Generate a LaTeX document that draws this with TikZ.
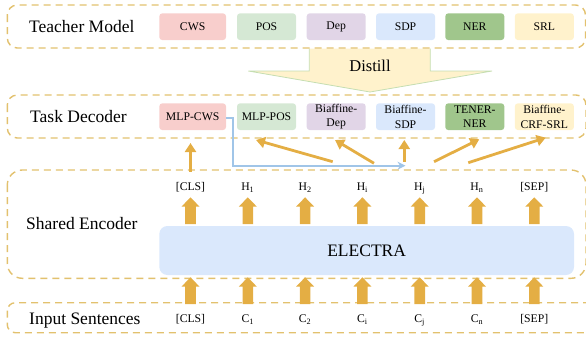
\documentclass[tikz,border=0pt]{standalone}
\usepackage{fontspec}
\setmainfont{Liberation Serif}
\usetikzlibrary{arrows.meta}
\definecolor{dashc}{RGB}{226,193,110}
\definecolor{orng}{RGB}{228,174,68}
\definecolor{cwsc}{RGB}{248,206,204}
\definecolor{posc}{RGB}{213,232,212}
\definecolor{depc}{RGB}{225,213,231}
\definecolor{sdpc}{RGB}{218,232,252}
\definecolor{nerc}{RGB}{160,198,140}
\definecolor{srlc}{RGB}{255,242,204}
\definecolor{bluel}{RGB}{160,197,232}
\definecolor{distb}{RGB}{197,222,178}
\tikzset{
  groupbox/.style={draw=dashc, line width=1.4pt, dash pattern=on 7pt off 5pt},
  grouptitle/.style={font=\fontsize{17.5}{20}\selectfont, anchor=west, inner sep=0pt, text height=11.6pt, text depth=0pt},
  taskbox/.style={rounded corners=3pt, minimum height=26.7pt, minimum width=59pt, inner sep=0pt, font=\fontsize{11.7}{14.5}\selectfont, align=center},
  tok/.style={font=\fontsize{11.7}{14}\selectfont, inner sep=0pt, text height=7.8pt, text depth=0pt},
  thinarr/.style={draw=orng, line width=2.8pt, -{Triangle[length=9pt,width=11pt]}},
  bluearr/.style={draw=bluel, line width=2.2pt, -{Stealth[length=8pt,width=8pt]}},
  blockup/.pic={\fill[orng] (-5.3,0) -- (-5.3,-17.4) -- (-9,-17.4) -- (0,-26.7) -- (9,-17.4) -- (5.3,-17.4) -- (5.3,0) -- cycle;}
}
\begin{document}
\begin{tikzpicture}[x=1pt,y=-1pt]
\useasboundingbox (0,0) rectangle (586,338);
\clip (0,0) rectangle (586,338);
% distill arrow (behind the dashed box line)
\fill[srlc] (309.3,48.5) -- (309.3,71) -- (248.3,71) -- (370,92) -- (492,71) -- (430.3,71) -- (430.3,48.5) -- cycle;
\draw[distb, line width=0.8pt] (309.3,48.5) -- (309.3,71) -- (248.3,71) -- (370,92) -- (492,71) -- (430.3,71) -- (430.3,48.5);
\node[font=\fontsize{16.5}{18}\selectfont, inner sep=0pt] (distill) at (370,66) {Distill};
% group boxes
\draw[groupbox, rounded corners=10pt] (7.3,5) rectangle (585.5,48);
\draw[groupbox, rounded corners=10pt] (7.3,95) rectangle (586,138);
\draw[groupbox, rounded corners=15pt] (7.3,170) rectangle (586,278.3);
\draw[groupbox, rounded corners=8pt] (7.3,302.7) rectangle (596,332.7);
% titles
\node[grouptitle] (tmodel) at (29,27) {Teacher Model};
\node[grouptitle] (tdec) at (30,117) {Task Decoder};
\node[grouptitle] (senc) at (26,223.3) {Shared Encoder};
\node[grouptitle] (insent) at (29,318.3) {Input Sentences};
% teacher boxes
\node[taskbox, fill=cwsc, minimum width=66.7pt] (tcws) at (192.65,26.7) {CWS};
\node[taskbox, fill=posc] (tpos) at (266.5,26.7) {POS};
\node[taskbox, fill=depc] (tdep) at (336.2,26.7) {Dep};
\node[taskbox, fill=sdpc] (tsdp) at (405.5,26.7) {SDP};
\node[taskbox, fill=nerc] (tner) at (474.8,26.7) {NER};
\node[taskbox, fill=srlc] (tsrl) at (544.35,26.7) {SRL};
% decoder boxes
\node[taskbox, fill=cwsc, minimum width=66.7pt] (dcws) at (192.65,116.7) {MLP-CWS};
\node[taskbox, fill=posc] (dpos) at (266.5,116.7) {MLP-POS};
\node[taskbox, fill=depc] (ddep) at (336.2,116.7) {Biaffine-\\Dep};
\node[taskbox, fill=sdpc] (dsdp) at (405.5,116.7) {Biaffine-\\SDP};
\node[taskbox, fill=nerc] (dner) at (474.8,116.7) {TENER-\\NER};
\node[taskbox, fill=srlc] (dsrl) at (544.35,116.7) {Biaffine-\\CRF-SRL};
% connector coordinates
\coordinate (bcorner) at (232.7,117.7);
\coordinate (btip) at (405.5,165.7);
\coordinate (scws) at (190.5,171.5);
\coordinate (ecws) at (190.5,143);
\coordinate (spos) at (332.7,161.7);
\coordinate (epos) at (256,140);
\coordinate (sdep) at (374,163.3);
\coordinate (edep) at (335,140);
\coordinate (ssdp) at (404.3,161.5);
\coordinate (esdp) at (404.3,140);
\coordinate (sner) at (434,161.7);
\coordinate (ener) at (479.3,139.3);
\coordinate (ssrl) at (468.3,162.7);
\coordinate (esrl) at (545.7,137.7);
% blue connector
\draw[bluearr] (dcws.east |- bcorner) -- (bcorner) |- (btip);
% orange connectors
\draw[thinarr] (scws) -- (ecws);
\draw[thinarr] (spos) -- (epos);
\draw[thinarr] (sdep) -- (edep);
\draw[thinarr] (ssdp) -- (esdp);
\draw[thinarr] (sner) -- (ener);
\draw[thinarr] (ssrl) -- (esrl);
% ELECTRA
\node[fill=sdpc, rounded corners=8pt, minimum width=414.7pt, minimum height=49pt, inner sep=0pt, font=\fontsize{17.5}{20}\selectfont] (electra) at (366.65,250.5) {ELECTRA};
% tokens and block arrows
\foreach \i/\h/\c in {0/[CLS]/[CLS], 1/H\textsubscript{1}/C\textsubscript{1}, 2/H\textsubscript{2}/C\textsubscript{2}, 3/H\textsubscript{i}/C\textsubscript{i}, 4/H\textsubscript{j}/C\textsubscript{j}, 5/H\textsubscript{n}/C\textsubscript{n}, 6/[SEP]/[SEP]}{
  \pgfmathsetmacro{\xx}{190.5+57.3*\i}
  \node[tok] (h\i) at (\xx,186.7) {\h};
  \node[tok] (c\i) at (\xx,318.3) {\c};
  \pic at (\xx,224) {blockup};
  \pic at (\xx,304) {blockup};
}
\end{tikzpicture}
\end{document}
